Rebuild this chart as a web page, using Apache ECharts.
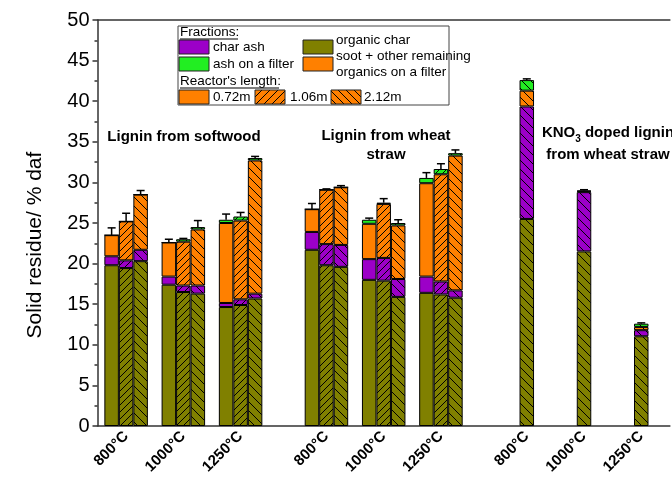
<!DOCTYPE html>
<html>
<head>
<meta charset="utf-8">
<script src="https://cdn.jsdelivr.net/npm/echarts@6/dist/echarts.min.js"></script>
<style>
  html, body { margin: 0; padding: 0; background: #fff; }
  #chart { width: 672px; height: 483px; }
</style>
</head>
<body>
<div id="chart"></div>
<script>
// x categories (blank ones make the gaps between sample groups)
const tickLabels = ['', '800°C', '', '1000°C', '', '1250°C', '', '',
  '800°C', '', '1000°C', '', '1250°C', '', '',
  '800°C', '', '1000°C', '', '1250°C', ''];
// category index of each column: softwood 800/1000/1250, wheat straw 800/1000/1250, KNO3 800/1000/1250
const slots = [1, 3, 5, 8, 10, 12, 15, 17, 19];

// reactor 0.72 m (softwood x3, wheat straw x3)
const organic072 = [19.8, 17.4, 14.65, 21.7, 18.0, 16.4];
const ash072     = [1.1, 1.0, 0.5, 2.2, 2.55, 2.0];
const soot072    = [2.6, 4.2, 9.85, 2.8, 4.35, 11.5];
const filter072  = [0, 0, 0.4, 0, 0.5, 0.65];
const err072     = [0.9, 0.4, 0.7, 0.7, 0.2, 0.65];

// reactor 1.06 m
const organic106 = [19.45, 16.5, 14.9, 19.8, 17.9, 16.2];
const ash106     = [0.95, 0.8, 0.7, 2.6, 2.8, 1.6];
const soot106    = [4.8, 5.4, 9.7, 6.7, 6.65, 13.2];
const filter106  = [0, 0.3, 0.5, 0, 0.15, 0.65];
const err106     = [1.0, 0.1, 0.5, 0.1, 0.5, 0.65];

// reactor 2.12 m
const organic212 = [20.3, 16.3, 15.7, 19.6, 15.9, 15.8];
const ash212     = [1.4, 1.0, 0.6, 2.7, 2.2, 0.9];
const soot212    = [6.8, 6.9, 16.4, 7.1, 6.6, 16.6];
const filter212  = [0, 0.3, 0.3, 0, 0.3, 0.3];
const err212     = [0.5, 0.8, 0.2, 0.2, 0.4, 0.4];

// KNO3 doped lignin from wheat straw (2.12 m), 800/1000/1250
const organicKNO3 = [25.5, 21.5, 11.05];
const ashKNO3     = [13.85, 7.3, 0.75];
const sootKNO3    = [1.95, 0.1, 0.4];
const filterKNO3  = [1.3, 0.1, 0.4];
const errKNO3     = [0.15, 0.1, 0.1];

const FONT = 'Arial, "Liberation Sans", sans-serif';
const colors = { organic: '#808000', ash: '#9C00C8', soot: '#FF8000', filter: '#22EE22' };

function hatch(color, dir, step) {
  if (!dir) return color;
  const c = document.createElement('canvas');
  c.width = step; c.height = step;
  const ctx = c.getContext('2d');
  ctx.fillStyle = color;
  ctx.fillRect(0, 0, step, step);
  ctx.strokeStyle = '#000';
  ctx.lineWidth = 1;
  ctx.beginPath();
  if (dir === '/') { ctx.moveTo(-1, step + 1); ctx.lineTo(step + 1, -1); }
  else { ctx.moveTo(-1, -1); ctx.lineTo(step + 1, step + 1); }
  ctx.stroke();
  return { image: c, repeat: 'repeat' };
}

const lengths = [
  { key: 'L072', dir: null, step: 8, organic: organic072, ash: ash072, soot: soot072, filter: filter072, err: err072 },
  { key: 'L106', dir: '/', step: 7, organic: organic106, ash: ash106, soot: soot106, filter: filter106, err: err106 },
  { key: 'L212', dir: '\\', step: 9, organic: organic212, ash: ash212, soot: soot212, filter: filter212, err: err212 }
];
const kno3 = { organic: organicKNO3, ash: ashKNO3, soot: sootKNO3, filter: filterKNO3, err: errKNO3 };
const fractions = ['organic', 'ash', 'soot', 'filter'];

const series = [];
lengths.forEach(function (L, li) {
  fractions.forEach(function (f) {
    const data = tickLabels.map(function () { return '-'; });
    L[f].forEach(function (v, i) { data[slots[i]] = v; });
    if (L.key === 'L106') {
      // KNO3 bars sit in the middle position but carry the 2.12 m hatch
      kno3[f].forEach(function (v, i) {
        data[slots[6 + i]] = { value: v, itemStyle: { color: hatch(colors[f], '\\', 9) } };
      });
    }
    series.push({
      type: 'bar', stack: L.key, barWidth: 14.5, barGap: '0%',
      itemStyle: { color: hatch(colors[f], L.dir, L.step), borderColor: '#000', borderWidth: 1 },
      emphasis: { disabled: true },
      data: data
    });
  });
  // error bars on top of each stack
  const errData = [];
  L.organic.forEach(function (v, i) {
    const top = L.organic[i] + L.ash[i] + L.soot[i] + L.filter[i];
    errData.push([slots[i], top, L.err[i]]);
  });
  if (L.key === 'L106') {
    kno3.organic.forEach(function (v, i) {
      const top = kno3.organic[i] + kno3.ash[i] + kno3.soot[i] + kno3.filter[i];
      errData.push([slots[6 + i], top, kno3.err[i]]);
    });
  }
  const offset = (li - 1) * 14.5;
  series.push({
    type: 'custom', z: 5, data: errData,
    renderItem: function (params, api) {
      const p0 = api.coord([api.value(0), api.value(1)]);
      const p1 = api.coord([api.value(0), api.value(1) + api.value(2)]);
      const x = p0[0] + offset;
      const st = { stroke: '#000', lineWidth: 1.5 };
      return { type: 'group', children: [
        { type: 'line', shape: { x1: x, y1: p0[1], x2: x, y2: p1[1] }, style: st },
        { type: 'line', shape: { x1: x - 4, y1: p1[1], x2: x + 4, y2: p1[1] }, style: st }
      ] };
    }
  });
});

// legend built as graphics
const lg = [];
function sw(x, y, fill) {
  lg.push({ type: 'rect', shape: { x: x, y: y, width: 30, height: 14 }, style: { fill: fill, stroke: '#222', lineWidth: 1 } });
}
function tx(x, y, text, extra) {
  lg.push({ type: 'text', x: x, y: y, style: Object.assign({ text: text, font: '13.5px ' + FONT, fill: '#000', textVerticalAlign: 'middle' }, extra || {}) });
}
lg.push({ type: 'rect', shape: { x: 178, y: 26, width: 271, height: 79 }, style: { fill: '#fff', stroke: '#444', lineWidth: 1 } });
tx(180, 32, 'Fractions:');
lg.push({ type: 'line', shape: { x1: 180, y1: 39, x2: 238, y2: 39 }, style: { stroke: '#000', lineWidth: 1 } });
sw(179, 40, colors.ash); tx(213, 47, 'char ash');
sw(179, 57, colors.filter); tx(213, 64, 'ash on a filter');
tx(180, 81, "Reactor's length:");
lg.push({ type: 'line', shape: { x1: 180, y1: 88, x2: 279, y2: 88 }, style: { stroke: '#000', lineWidth: 1 } });
sw(179, 90, colors.soot); tx(213, 97, '0.72m');
sw(255, 90, hatch(colors.soot, '/', 8)); tx(290, 97, '1.06m');
sw(331, 90, hatch(colors.soot, '\\', 8)); tx(364, 97, '2.12m');
sw(303, 40, colors.organic); tx(336, 40, 'organic char');
sw(303, 57, colors.soot); tx(336, 56, 'soot + other remaining'); tx(336, 72, 'organics on a filter');

// group titles
const bold = 'bold 15px ' + FONT;
lg.push({ type: 'text', x: 184, y: 137, style: { text: 'Lignin from softwood', font: bold, fill: '#000', textAlign: 'center', textVerticalAlign: 'middle' } });
lg.push({ type: 'text', x: 386, y: 145, style: { text: 'Lignin from wheat\nstraw', font: bold, lineHeight: 19, fill: '#000', textAlign: 'center', textVerticalAlign: 'middle' } });
lg.push({ type: 'text', x: 608, y: 144, style: {
  text: '{b|KNO}{s|3}{b| doped lignin}\n{b|from wheat straw}',
  rich: { b: { font: bold, fill: '#000', lineHeight: 22 }, s: { font: 'bold 10px ' + FONT, fill: '#000', lineHeight: 22, verticalAlign: 'bottom', padding: [6, 0, 0, 0] } },
  textAlign: 'center', textVerticalAlign: 'middle' } });

const axisLine = { show: true, lineStyle: { color: '#333', width: 1.5 } };
const chart = echarts.init(document.getElementById('chart'));
chart.setOption({
  animation: false,
  grid: { left: 97.5, right: 0, top: 20, bottom: 57 },
  xAxis: [
    { type: 'category', data: tickLabels, boundaryGap: false, axisLine: axisLine, axisTick: { show: false },
      axisLabel: { interval: 0, rotate: 45, fontSize: 15, fontWeight: 'bold', color: '#000', fontFamily: FONT, margin: 8 } },
    { type: 'category', position: 'top', data: tickLabels, boundaryGap: false, axisLine: axisLine,
      axisTick: { show: false }, axisLabel: { show: false } }
  ],
  yAxis: {
    type: 'value', min: 0, max: 50, interval: 5,
    name: 'Solid residue/ % daf', nameLocation: 'middle', nameGap: 52,
    nameTextStyle: { fontSize: 21, color: '#000', fontFamily: FONT, padding: [0, 44, 0, 0] },
    axisLine: axisLine,
    axisTick: { show: true, inside: false, length: 5, lineStyle: { color: '#333', width: 1.5 } },
    minorTick: { show: true, splitNumber: 2, length: 3, lineStyle: { color: '#333', width: 1.5 } },
    splitLine: { show: false },
    axisLabel: { fontSize: 20, color: '#000', fontFamily: FONT, margin: 8 }
  },
  graphic: { elements: lg },
  series: series
});
</script>
</body>
</html>
